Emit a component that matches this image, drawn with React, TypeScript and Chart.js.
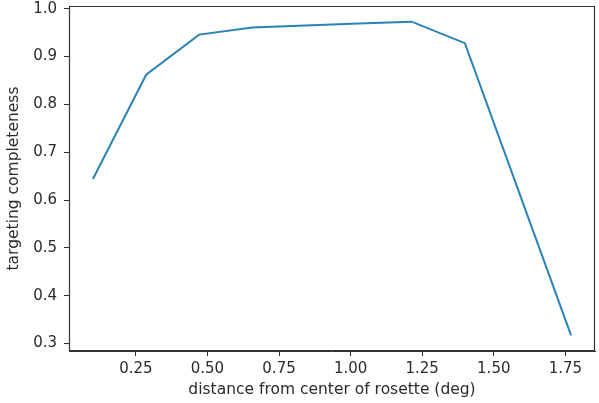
import React, { useEffect, useRef } from "react";
import { Chart, registerables } from "chart.js";

Chart.register(...registerables);

const distance = [0.1, 0.286, 0.471, 0.657, 0.842, 1.028, 1.213, 1.399, 1.77];
const completeness = [0.644, 0.862, 0.946, 0.961, 0.965, 0.969, 0.973, 0.928, 0.317];
const xTicks = [0.25, 0.5, 0.75, 1.0, 1.25, 1.5, 1.75];
const yTicks = [0.3, 0.4, 0.5, 0.6, 0.7, 0.8, 0.9, 1.0];
const xLabel = "distance from center of rosette (deg)";
const yLabel = "targeting completeness";

const FONT = "'DejaVu Sans', sans-serif";
const INK = "#2b2b2b";
const SPINE = "#333333";

function padded(values: number[]) {
  const lo = Math.min(...values);
  const hi = Math.max(...values);
  const m = (hi - lo) * 0.05;
  return [lo - m, hi + m];
}

const boxPlugin = {
  id: "box",
  afterDraw(chart: any) {
    const { ctx, chartArea } = chart;
    const l = Math.round(chartArea.left) + 0.5;
    const t = Math.round(chartArea.top) + 0.5;
    const r = Math.round(chartArea.right) - 0.5;
    const b = Math.round(chartArea.bottom) - 0.5;
    ctx.save();
    ctx.strokeStyle = SPINE;
    ctx.lineWidth = 1.2;
    ctx.beginPath();
    ctx.moveTo(l, b);
    ctx.lineTo(l, t);
    ctx.lineTo(r, t);
    ctx.lineTo(r, b);
    ctx.lineTo(l, b);
    ctx.stroke();
    ctx.restore();
  },
};

export default function App() {
  const ref = useRef<HTMLCanvasElement | null>(null);
  useEffect(() => {
    if (!ref.current) return;
    const [xMin, xMax] = padded(distance);
    const [yMin, yMax] = padded(completeness);
    const chart = new Chart(ref.current, {
      type: "line",
      data: {
        datasets: [
          {
            data: distance.map((d, i) => ({ x: d, y: completeness[i] })),
            borderColor: "#2a83b6",
            borderWidth: 2,
            pointRadius: 0,
            tension: 0,
            fill: false,
          },
        ],
      },
      options: {
        animation: false,
        responsive: false,
        layout: { padding: { top: 6, right: 4, left: 0, bottom: 0 } },
        plugins: { legend: { display: false }, tooltip: { enabled: false } },
        scales: {
          x: {
            type: "linear",
            min: xMin,
            max: xMax,
            afterBuildTicks: (s: any) => {
              s.ticks = xTicks.map((v) => ({ value: v }));
            },
            afterFit: (s: any) => {
              s.height = 52;
              s.paddingLeft = 0;
              s.paddingRight = 0;
            },
            ticks: {
              autoSkip: false,
              maxRotation: 0,
              padding: 4,
              color: INK,
              font: { family: FONT, size: 15 },
              callback: (v: any) => Number(v).toFixed(2),
            },
            grid: { drawOnChartArea: false, drawTicks: true, tickLength: 5, color: SPINE, tickWidth: 1 },
            border: { display: true, color: SPINE, width: 1 },
            title: {
              display: true,
              text: xLabel,
              color: INK,
              font: { family: FONT, size: 15.5 },
              padding: { top: 0, bottom: 4 },
            },
          },
          y: {
            type: "linear",
            min: yMin,
            max: yMax,
            afterBuildTicks: (s: any) => {
              s.ticks = yTicks.map((v) => ({ value: v }));
            },
            afterFit: (s: any) => {
              s.width = 69;
              s.paddingTop = 0;
              s.paddingBottom = 0;
            },
            ticks: {
              autoSkip: false,
              padding: 7,
              color: INK,
              font: { family: FONT, size: 15 },
              callback: (v: any) => Number(v).toFixed(1),
            },
            grid: { drawOnChartArea: false, drawTicks: true, tickLength: 5, color: SPINE, tickWidth: 1 },
            border: { display: true, color: SPINE, width: 1 },
            title: {
              display: true,
              text: yLabel,
              color: INK,
              font: { family: FONT, size: 15.5 },
              padding: { top: 5, bottom: 0 },
            },
          },
        },
      },
      plugins: [boxPlugin],
    });
    return () => chart.destroy();
  }, []);
  return (
    <canvas
      ref={ref}
      width={599}
      height={403}
      style={{ position: "fixed", left: 0, top: 0, width: 599, height: 403, display: "block", background: "#fff" }}
    />
  );
}
